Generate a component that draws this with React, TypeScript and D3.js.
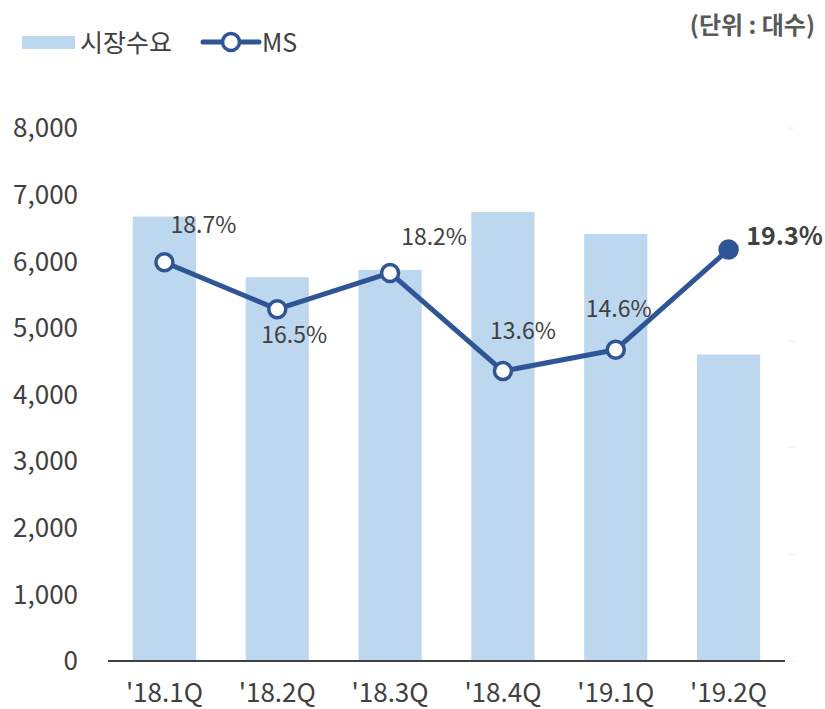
import React, { useEffect, useRef } from "react";
import * as d3 from "d3";

const quarters = ["'18.1Q", "'18.2Q", "'18.3Q", "'18.4Q", "'19.1Q", "'19.2Q"];
const demand = [6670, 5760, 5870, 6740, 6410, 4600];
const share = [18.7, 16.5, 18.2, 13.6, 14.6, 19.3];
const leftTicks = [0, 1000, 2000, 3000, 4000, 5000, 6000, 7000, 8000];
const rightTicks = [0, 5, 10, 15, 20, 25];
// label offsets relative to each point (dx, dy)
const labelOffsets = [
  [39, -38],
  [17, 25],
  [44, -36],
  [20, -40],
  [3, -41],
  [56, -14],
];

const FONT = "'Noto Sans CJK KR', 'Noto Sans', sans-serif";
const BAR = "#BDD7EE";
const LINE = "#2F5597";
const TEXT = "#404040";

export default function App() {
  const ref = useRef<SVGSVGElement>(null);

  useEffect(() => {
    const svg = d3.select(ref.current);
    svg.selectAll("*").remove();

    const x = d3.scaleBand().domain(quarters).range([108, 785]).paddingInner(0.44).paddingOuter(0.22);
    const y = d3.scaleLinear().domain([0, 8000]).range([661, 128]);
    const y2 = d3.scaleLinear().domain([0, 25]).range([661, 128]);

    // faint right axis ticks
    svg
      .append("g")
      .selectAll("line")
      .data(rightTicks)
      .join("line")
      .attr("x1", 788)
      .attr("x2", 795)
      .attr("y1", (d) => y2(d))
      .attr("y2", (d) => y2(d))
      .attr("stroke", "#eeeeee")
      .attr("stroke-width", 1);

    // bars
    svg
      .append("g")
      .selectAll("rect")
      .data(demand)
      .join("rect")
      .attr("x", (_, i) => x(quarters[i])!)
      .attr("width", x.bandwidth())
      .attr("y", (d) => y(d))
      .attr("height", (d) => y(0) - y(d))
      .attr("fill", BAR);

    // x axis line
    svg
      .append("line")
      .attr("x1", 108)
      .attr("x2", 785)
      .attr("y1", y(0))
      .attr("y2", y(0))
      .attr("stroke", TEXT)
      .attr("stroke-width", 2);

    // left tick labels
    svg
      .append("g")
      .selectAll("text")
      .data(leftTicks)
      .join("text")
      .attr("x", 78)
      .attr("y", (d) => y(d))
      .attr("dy", "0.36em")
      .attr("text-anchor", "end")
      .attr("font-family", FONT)
      .attr("font-size", 26)
      .attr("fill", TEXT)
      .text((d) => d3.format(",")(d));

    // x labels
    svg
      .append("g")
      .selectAll("text")
      .data(quarters)
      .join("text")
      .attr("x", (d) => x(d)! + x.bandwidth() / 2)
      .attr("y", 702)
      .attr("text-anchor", "middle")
      .attr("font-family", FONT)
      .attr("font-size", 26)
      .attr("fill", TEXT)
      .text((d) => d);

    const cx = (i: number) => x(quarters[i])! + x.bandwidth() / 2;

    // MS line
    const line = d3
      .line<number>()
      .x((_, i) => cx(i))
      .y((d) => y2(d));
    svg
      .append("path")
      .datum(share)
      .attr("d", line)
      .attr("fill", "none")
      .attr("stroke", LINE)
      .attr("stroke-width", 5)
      .attr("stroke-linejoin", "round");

    svg
      .append("g")
      .selectAll("circle")
      .data(share)
      .join("circle")
      .attr("cx", (_, i) => cx(i))
      .attr("cy", (d) => y2(d))
      .attr("r", 8.5)
      .attr("fill", (_, i) => (i === share.length - 1 ? LINE : "#fff"))
      .attr("stroke", LINE)
      .attr("stroke-width", 3.5);

    // value labels
    svg
      .append("g")
      .selectAll("text")
      .data(share)
      .join("text")
      .attr("x", (_, i) => cx(i) + labelOffsets[i][0])
      .attr("y", (d, i) => y2(d) + labelOffsets[i][1])
      .attr("dy", "0.36em")
      .attr("text-anchor", "middle")
      .attr("font-family", FONT)
      .attr("font-size", (_, i) => (i === share.length - 1 ? 25 : 23))
      .attr("font-weight", (_, i) => (i === share.length - 1 ? "bold" : "normal"))
      .attr("fill", TEXT)
      .text((d) => d.toFixed(1) + "%");

    // legend
    const lg = svg.append("g").attr("font-family", FONT).attr("font-size", 25).attr("fill", TEXT);
    lg.append("rect").attr("x", 22).attr("y", 36).attr("width", 53).attr("height", 13).attr("fill", BAR);
    lg.append("text").attr("x", 80).attr("y", 43).attr("dy", "0.36em").text("시장수요");
    lg.append("line")
      .attr("x1", 203)
      .attr("x2", 259)
      .attr("y1", 42)
      .attr("y2", 42)
      .attr("stroke", LINE)
      .attr("stroke-width", 5)
      .attr("stroke-linecap", "round");
    lg.append("circle").attr("cx", 231).attr("cy", 42).attr("r", 8.5).attr("fill", "#fff").attr("stroke", LINE).attr("stroke-width", 3.5);
    lg.append("text").attr("x", 262).attr("y", 43).attr("dy", "0.36em").text("MS");

    // unit
    svg
      .append("text")
      .attr("x", 815)
      .attr("y", 25)
      .attr("dy", "0.36em")
      .attr("text-anchor", "end")
      .attr("font-family", FONT)
      .attr("font-size", 24)
      .attr("font-weight", "bold")
      .attr("fill", "#595959")
      .text("(단위 : 대수)");
  }, []);

  return (
    <svg
      ref={ref}
      width={825}
      height={709}
      style={{ position: "absolute", left: 0, top: 0, background: "#fff" }}
    />
  );
}
